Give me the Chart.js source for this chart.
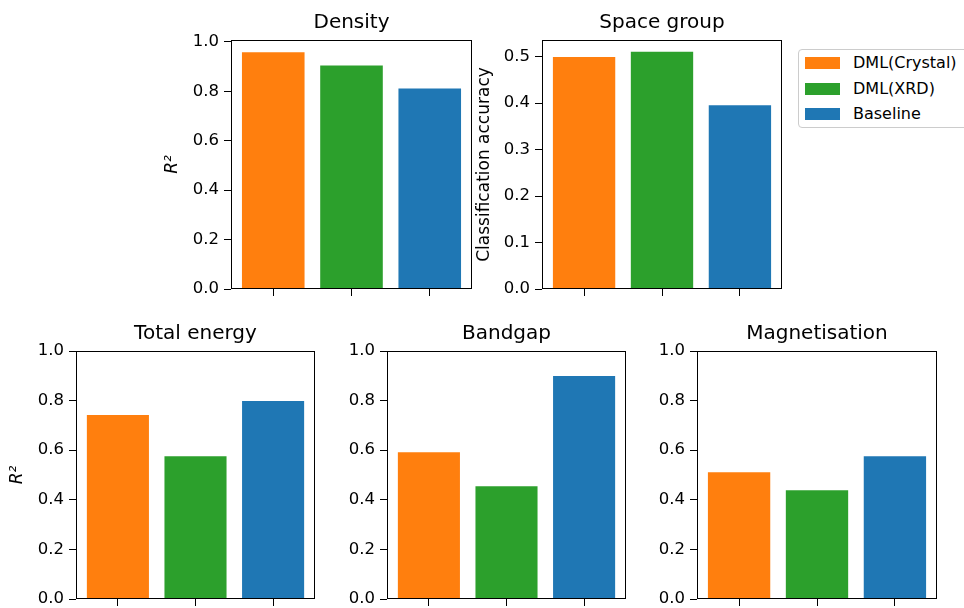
<!DOCTYPE html>
<html>
<head>
<meta charset="utf-8">
<script src="https://cdn.jsdelivr.net/npm/chart.js@4"></script>
<style>
  html, body { margin: 0; padding: 0; background: #fff; }
  body { width: 964px; height: 608px; overflow: hidden; position: relative; font-family: "DejaVu Sans", sans-serif; }
  canvas { position: absolute; }
  #legend { position: absolute; left: 798px; top: 49px; width: 190px; height: 79px; border: 1px solid #cccccc; border-radius: 4px; box-sizing: border-box; background: rgba(255,255,255,0.8); }
  .item { position: absolute; left: 0; height: 20px; }
  .patch { position: absolute; left: 6px; width: 35px; height: 12px; }
  .lbl { position: absolute; left: 54px; font-size: 16px; line-height: 20px; white-space: nowrap; color: #000; }
</style>
</head>
<body>
<div id="legend"></div>
<script>
// ---- data ----
const categories = ['DML(Crystal)', 'DML(XRD)', 'Baseline'];
const barColors = ['#ff7f0e', '#2ca02c', '#1f77b4'];
const panelTitles = ['Density', 'Space group', 'Total energy', 'Bandgap', 'Magnetisation'];
const densityR2 = [0.958, 0.905, 0.812];
const spaceGroupAccuracy = [0.499, 0.510, 0.395];
const totalEnergyR2 = [0.742, 0.576, 0.798];
const bandgapR2 = [0.592, 0.455, 0.899];
const magnetisationR2 = [0.511, 0.439, 0.576];
const r2Ticks = [0.0, 0.2, 0.4, 0.6, 0.8, 1.0];
const accuracyTicks = [0.0, 0.1, 0.2, 0.3, 0.4, 0.5];
const r2Label = 'R²';
const accuracyLabel = 'Classification accuracy';

// ---- layout (plot boxes in page pixels) ----
const panels = [
  { title: panelTitles[0], values: densityR2, ticks: r2Ticks, yMax: 1.008, yLabel: r2Label, italic: true, L: 231, T: 40, W: 241, H: 249, lab: 58 },
  { title: panelTitles[1], values: spaceGroupAccuracy, ticks: accuracyTicks, yMax: 0.5355, yLabel: accuracyLabel, italic: false, L: 542, T: 40, W: 240, H: 249, lab: 57 },
  { title: panelTitles[2], values: totalEnergyR2, ticks: r2Ticks, yMax: 1.0, yLabel: r2Label, italic: true, L: 76, T: 351, W: 239, H: 248, lab: 58 },
  { title: panelTitles[3], values: bandgapR2, ticks: r2Ticks, yMax: 1.0, yLabel: null, italic: false, L: 387, T: 351, W: 239, H: 248, lab: 58 },
  { title: panelTitles[4], values: magnetisationR2, ticks: r2Ticks, yMax: 1.0, yLabel: null, italic: false, L: 697, T: 351, W: 240, H: 248, lab: 58 }
];

const YW = 75, TH = 40, XH = 18;
const FONT = '"DejaVu Sans", sans-serif';

const framePlugin = {
  id: 'frame',
  afterDraw(chart) {
    const { ctx, chartArea: a } = chart;
    ctx.save();
    ctx.strokeStyle = '#000';
    ctx.lineWidth = 1;
    const l = Math.round(a.left) + 0.5, t = Math.round(a.top) + 0.5;
    const r = Math.round(a.right) - 0.5, b = Math.round(a.bottom) - 0.5;
    ctx.strokeRect(l, t, r - l, b - t);
    ctx.restore();
  }
};

panels.forEach(p => {
  const cv = document.createElement('canvas');
  const w = YW + p.W + YW, h = TH + p.H + XH;
  cv.width = w; cv.height = h;
  cv.style.width = w + 'px'; cv.style.height = h + 'px';
  cv.style.left = (p.L - YW) + 'px';
  cv.style.top = (p.T - TH) + 'px';
  document.body.appendChild(cv);

  const labLine = 17 * 1.2;
  new Chart(cv.getContext('2d'), {
    type: 'bar',
    data: {
      labels: categories,
      datasets: [{
        data: p.values.map((v, i) => ({ x: i, y: v })),
        backgroundColor: barColors,
        borderWidth: 0,
        barPercentage: 0.8,
        categoryPercentage: 1.0,
        yAxisID: 'y'
      }]
    },
    options: {
      responsive: false,
      animation: false,
      devicePixelRatio: 1,
      layout: { padding: 0 },
      plugins: {
        legend: { display: false },
        tooltip: { enabled: false },
        title: {
          display: true,
          text: p.title,
          color: '#000',
          font: { family: FONT, size: 20, weight: 'normal', lineHeight: 1.2 },
          padding: { top: 11, bottom: 5 }
        }
      },
      scales: {
        x: {
          type: 'linear',
          min: -0.54, max: 2.54,
          offset: false,
          border: { display: false },
          grid: { display: true, drawOnChartArea: false, drawTicks: true, tickLength: 7, color: '#000', tickColor: '#000', lineWidth: 1, offset: false },
          ticks: { display: false },
          afterBuildTicks: s => { s.ticks = categories.map((c, i) => ({ value: i })); },
          afterFit: s => { s.height = XH; }
        },
        y: {
          type: 'linear',
          position: 'left',
          min: 0, max: p.yMax,
          border: { display: false },
          grid: { display: true, drawOnChartArea: false, drawTicks: true, tickLength: 7, color: '#000', tickColor: '#000', lineWidth: 1 },
          ticks: {
            color: '#000', padding: 5,
            font: { family: FONT, size: 16.5 },
            callback: v => Number(v).toFixed(1)
          },
          afterBuildTicks: s => { s.ticks = p.ticks.map(v => ({ value: v })); },
          afterFit: s => { s.width = YW; },
          title: {
            display: !!p.yLabel,
            text: p.yLabel || '',
            color: '#000',
            font: { family: FONT, size: 17, style: p.italic ? 'italic' : 'normal', lineHeight: 1.2 },
            padding: { top: YW - p.lab - labLine / 2, bottom: 0 }
          }
        },
        yPad: {
          type: 'linear',
          position: 'right',
          display: true,
          min: 0, max: 1,
          border: { display: false },
          grid: { display: false },
          ticks: { display: false },
          afterFit: s => { s.width = YW; }
        }
      }
    },
    plugins: [framePlugin]
  });
});

// legend (HTML, real text)
const legend = document.getElementById('legend');
categories.forEach((c, i) => {
  const item = document.createElement('div');
  item.className = 'item';
  item.style.top = (3 + i * 25.5) + 'px';
  item.style.width = '100%';
  const patch = document.createElement('div');
  patch.className = 'patch';
  patch.style.top = '4px';
  patch.style.background = barColors[i];
  const lbl = document.createElement('div');
  lbl.className = 'lbl';
  lbl.style.top = '0px';
  lbl.textContent = c;
  item.appendChild(patch);
  item.appendChild(lbl);
  legend.appendChild(item);
});
</script>
</body>
</html>
